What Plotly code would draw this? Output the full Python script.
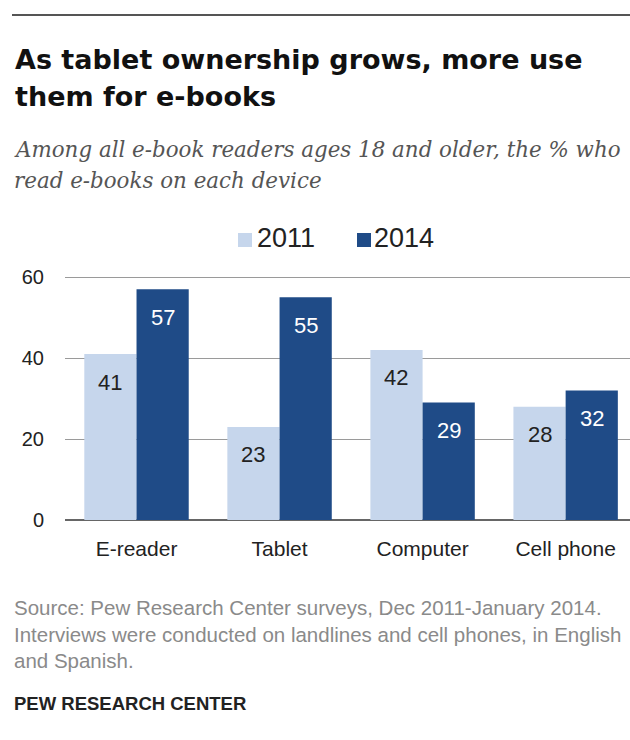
import plotly.graph_objects as go

# Share of e-book readers (18+) who read e-books on each device
devices = ["E-reader", "Tablet", "Computer", "Cell phone"]
years = ["2011", "2014"]
pct_2011 = [41, 23, 42, 28]
pct_2014 = [57, 55, 29, 32]
y_ticks = [0, 20, 40, 60]

colors = {"2011": "#c6d6ec", "2014": "#1f4b87"}
label_colors = {"2011": "#222222", "2014": "#ffffff"}

title_lines = ["As tablet ownership grows, more use", "them for e-books"]
subtitle_lines = ["Among all e-book readers ages 18 and older, the % who",
                  "read e-books on each device"]
source_lines = ["Source: Pew Research Center surveys, Dec 2011-January 2014.",
                "Interviews were conducted on landlines and cell phones, in English",
                "and Spanish."]
credit = "PEW RESEARCH CENTER"

W, H = 630, 740
ML, MR, MT, MB = 65, 0, 269, 220
PW, PH = W - ML - MR, H - MT - MB

BARGAP = 0.27
SANS = "Liberation Sans, Arial, sans-serif"


def px(x):
    return (x - ML) / PW


def py(y):
    return (H - MB - y) / PH


series = {"2011": pct_2011, "2014": pct_2014}

fig = go.Figure()
for yr in years:
    fig.add_trace(go.Bar(
        name=yr, x=devices, y=series[yr],
        marker=dict(color=colors[yr], line=dict(width=0)),
        showlegend=False,
    ))

# value labels inside the top of each bar
half = (1 - BARGAP) / 2
for k, yr in enumerate(years):
    off = (k - 0.5) * half
    for i, v in enumerate(series[yr]):
        fig.add_annotation(
            x=i + off, y=v, xref="x", yref="y", text=str(v), showarrow=False,
            yshift=-28, yanchor="middle", xanchor="center",
            font=dict(family=SANS, size=22, color=label_colors[yr]),
        )

# legend: coloured squares followed by the year
legend_items = [(238, 255), (357, 372)]
for yr, (sq_x, tx_x) in zip(years, legend_items):
    fig.add_shape(type="rect", xref="paper", yref="paper",
                  x0=px(sq_x), x1=px(sq_x + 14), y0=py(247), y1=py(233),
                  fillcolor=colors[yr], line=dict(width=0))
    fig.add_annotation(x=px(tx_x), y=py(238), xref="paper", yref="paper",
                       text=yr, showarrow=False, xanchor="left", yanchor="middle",
                       font=dict(family=SANS, size=27, color="#222222"))

# top rule
fig.add_shape(type="line", xref="paper", yref="paper",
              x0=px(12), x1=px(630), y0=py(15), y1=py(15),
              line=dict(color="#555555", width=2))

for txt, yc in zip(title_lines, [59, 97]):
    fig.add_annotation(x=px(13), y=py(yc), xref="paper", yref="paper", text=f"<b>{txt}</b>",
                       showarrow=False, xanchor="left", yanchor="middle",
                       font=dict(family="DejaVu Sans", size=27, color="#111111"))

for txt, yc in zip(subtitle_lines, [149, 180]):
    fig.add_annotation(x=px(12), y=py(yc), xref="paper", yref="paper", text=f"<i>{txt}</i>",
                       showarrow=False, xanchor="left", yanchor="middle",
                       font=dict(family="DejaVu Serif", size=21.4, color="#555555"))

for txt, yc in zip(source_lines, [607, 634, 660]):
    fig.add_annotation(x=px(12), y=py(yc), xref="paper", yref="paper", text=txt,
                       showarrow=False, xanchor="left", yanchor="middle",
                       font=dict(family=SANS, size=20.5, color="#8a8a8a"))

fig.add_annotation(x=px(12), y=py(703), xref="paper", yref="paper", text=f"<b>{credit}</b>",
                   showarrow=False, xanchor="left", yanchor="middle",
                   font=dict(family=SANS, size=18.5, color="#222222"))

fig.update_layout(
    width=W, height=H,
    margin=dict(l=ML, r=MR, t=MT, b=MB, pad=0),
    paper_bgcolor="white", plot_bgcolor="white",
    barmode="group", bargap=BARGAP, bargroupgap=0,
    showlegend=False,
)
fig.update_xaxes(
    range=[-0.5, 3.45], showgrid=False, zeroline=False, showline=False,
    ticks="", ticklabelstandoff=14,
    tickfont=dict(family=SANS, size=21, color="#222222"),
)
fig.update_yaxes(
    range=[0, 62], tickvals=y_ticks, showgrid=True, gridcolor="#9a9a9a", gridwidth=1,
    zeroline=True, zerolinecolor="#666666", zerolinewidth=1.5, showline=False,
    ticks="", ticklabelstandoff=20,
    tickfont=dict(family=SANS, size=20, color="#222222"),
)

fig.write_html("out.html")
